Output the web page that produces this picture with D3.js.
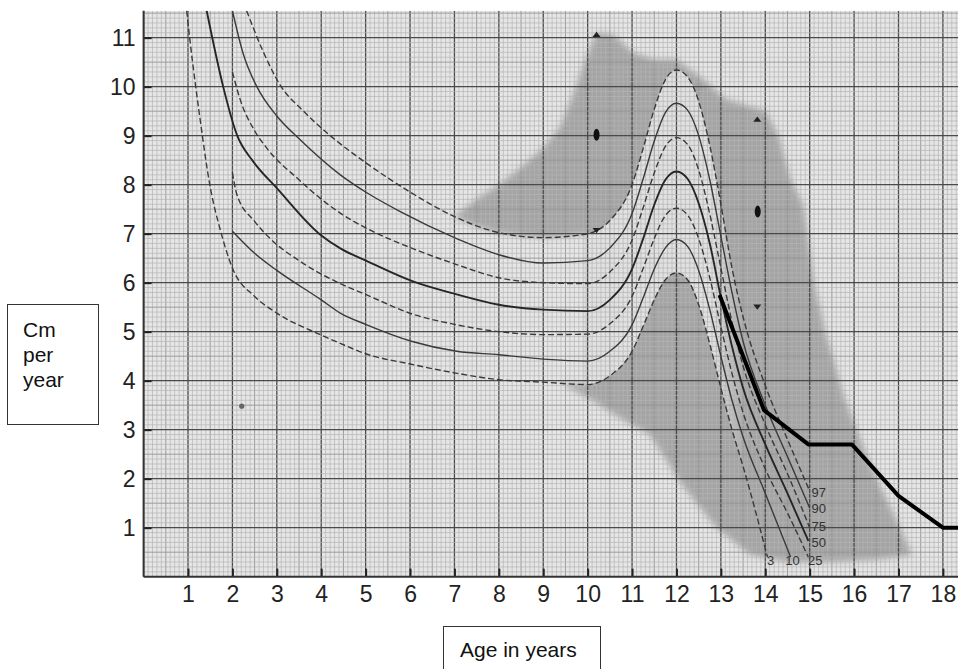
<!DOCTYPE html>
<html><head><meta charset="utf-8">
<script src="https://cdn.jsdelivr.net/npm/d3@7"></script>
<style>body{margin:0;background:#fff}svg{display:block}</style>
</head><body>
<script>
// ---------- data ----------
const xTicks = [1,2,3,4,5,6,7,8,9,10,11,12,13,14,15,16,17,18];
const yTicks = [1,2,3,4,5,6,7,8,9,10,11];

// percentile curves: [age, cm per year]
const p97 = [[2.32,11.55],[2.7,10.7],[3.07,10.04],[3.6,9.5],[4.27,8.95],[5.0,8.45],[6.0,7.85],[7.0,7.35],[8.0,7.02],[9.0,6.92],[10.0,7.0],[10.5,7.27],[11.0,8.0],[11.25,8.74],[11.5,9.54],[11.75,10.14],[12.0,10.34],[12.25,10.2],[12.5,9.7],[12.75,8.8],[13.0,7.6],[13.25,6.3],[13.5,5.3],[14.0,3.9],[14.5,2.8],[15.0,1.75]];
const p90 = [[2.0,11.55],[2.25,10.65],[2.55,10.0],[3.0,9.4],[3.52,8.92],[4.43,8.2],[5.0,7.85],[5.78,7.45],[7.05,6.9],[8.0,6.57],[9.0,6.4],[10.0,6.45],[10.5,6.71],[11.0,7.41],[11.25,8.12],[11.5,8.89],[11.75,9.47],[12.0,9.66],[12.25,9.52],[12.5,9.0],[12.75,8.1],[13.0,6.95],[13.25,5.8],[13.5,4.8],[14.0,3.5],[14.5,2.45],[15.0,1.4]];
const p75 = [[2.0,10.3],[2.17,9.75],[2.5,9.1],[2.77,8.75],[3.5,8.1],[3.98,7.72],[4.43,7.42],[5.0,7.12],[6.05,6.7],[7.05,6.37],[8.0,6.1],[9.0,6.0],[10.0,5.98],[10.5,6.22],[11.0,6.87],[11.25,7.53],[11.5,8.24],[11.75,8.78],[12.0,8.96],[12.25,8.82],[12.5,8.3],[12.75,7.4],[13.0,6.3],[13.25,5.2],[13.5,4.3],[14.0,3.1],[14.5,2.1],[15.0,1.0]];
const p50 = [[1.42,11.55],[1.8,9.97],[2.1,9.02],[2.47,8.47],[3.0,7.93],[3.98,6.98],[4.43,6.7],[5.03,6.44],[6.05,6.03],[7.05,5.76],[8.0,5.55],[9.0,5.45],[10.0,5.42],[10.5,5.65],[11.0,6.28],[11.25,6.9],[11.5,7.59],[11.75,8.1],[12.0,8.27],[12.25,8.12],[12.5,7.62],[12.75,6.8],[13.0,5.7],[13.25,4.7],[13.5,3.85],[14.0,2.7],[14.5,1.7],[14.97,0.73]];
const p25 = [[2.0,8.25],[2.1,7.8],[2.5,7.25],[2.85,6.9],[3.5,6.45],[4.43,5.98],[5.0,5.76],[6.05,5.36],[7.0,5.15],[8.0,5.0],[9.0,4.94],[10.0,4.95],[10.5,5.16],[11.0,5.72],[11.25,6.29],[11.5,6.9],[11.75,7.37],[12.0,7.52],[12.25,7.38],[12.5,6.9],[12.75,6.1],[13.0,5.1],[13.25,4.15],[13.5,3.35],[14.0,2.2],[14.5,1.3],[14.97,0.4]];
const p10 = [[2.0,7.05],[2.5,6.6],[3.0,6.25],[4.0,5.65],[4.43,5.38],[5.0,5.15],[6.05,4.8],[7.05,4.6],[8.0,4.53],[9.0,4.44],[10.0,4.4],[10.5,4.6],[11.0,5.14],[11.25,5.69],[11.5,6.28],[11.75,6.71],[12.0,6.88],[12.25,6.74],[12.5,6.25],[12.75,5.45],[13.0,4.5],[13.25,3.6],[13.5,2.85],[14.0,1.7],[14.57,0.4]];
const p3 = [[0.97,11.55],[1.05,10.9],[1.27,9.35],[1.5,7.95],[1.72,7.1],[2.0,6.3],[2.5,5.72],[3.0,5.38],[4.0,4.93],[4.43,4.76],[5.0,4.55],[6.0,4.34],[7.0,4.16],[8.0,4.02],[9.0,3.97],[10.0,3.92],[10.5,4.1],[11.0,4.6],[11.25,5.11],[11.5,5.65],[11.75,6.06],[12.0,6.2],[12.25,6.06],[12.5,5.55],[12.75,4.75],[13.0,3.85],[13.25,3.0],[13.5,2.25],[14.05,0.4]];

const curveNames = ["97","90","75","50","25","10","3"];
const curveData = [p97,p90,p75,p50,p25,p10,p3];

// the patient's plotted velocity
const patient = [[12.97,5.75],[13.97,3.4],[14.97,2.7],[15.95,2.7],[17.0,1.65],[18.0,1.0],[18.4,1.0]];

// shaded (early / late maturer) envelope
const shade = [[7.0,7.35],[7.5,7.7],[8.0,8.0],[8.5,8.35],[9.0,8.75],[9.4,9.2],[9.7,9.9],[9.95,10.55],[10.2,11.1],[10.6,11.05],[11.0,10.7],[11.5,10.55],[12.0,10.55],[12.6,10.15],[13.1,9.75],[14.0,9.5],[14.3,9.0],[14.55,8.15],[14.85,7.6],[15.1,6.0],[15.35,5.0],[15.8,3.6],[16.4,2.2],[17.1,0.86],[17.3,0.45],[16.5,0.35],[15.5,0.3],[14.5,0.3],[13.66,0.45],[12.9,1.0],[12.15,1.85],[11.4,2.9],[10.8,3.2],[10.2,3.55],[9.6,3.85],[9.4,3.95],[9.7,3.93],[10.0,3.92],[10.0,7.0],[9.0,6.92],[8.0,7.02],[7.5,7.15]];

// markers
const markerAge = [10.2,10.2,10.2,13.82,13.83,13.82];
const markerVel = [11.05,9.02,7.08,9.32,7.45,5.52];
const markerKind = ["up","oval","down","up","oval","down"];
const dotAge = [2.21], dotVel = [3.48];

// percentile labels
const pctLabels = ["97","90","75","50","3","10","25"];
const pctLabelAge = [15.04,15.04,15.04,15.04,14.04,14.45,14.96];
const pctLabelVel = [1.63,1.30,0.93,0.60,0.23,0.23,0.23];

// ---------- drawing ----------
const W = 958, H = 669;
const x = d3.scaleLinear().domain([0, 18.34]).range([143.6, 958]);
const y = d3.scaleLinear().domain([0, 11.55]).range([576.7, 10.7]);
const [x0, x1] = x.range(), [y0, y1] = y.range();

const svg = d3.select("body").append("svg").attr("width", W).attr("height", H);
const defs = svg.append("defs");
defs.append("filter").attr("id","soft").attr("x","-10%").attr("y","-10%").attr("width","120%").attr("height","120%")
  .append("feGaussianBlur").attr("stdDeviation", 3);
const PAPER = "#e6e6e6";
const grad = defs.append("linearGradient").attr("id","bandFade").attr("gradientUnits","userSpaceOnUse")
  .attr("x1", x(12.8)).attr("x2", x(13.6)).attr("y1",0).attr("y2",0);
grad.append("stop").attr("offset",0).attr("stop-color",PAPER).attr("stop-opacity",0.92);
grad.append("stop").attr("offset",1).attr("stop-color",PAPER).attr("stop-opacity",0);
defs.append("clipPath").attr("id","plotClip").append("rect")
  .attr("x",x0).attr("y",y1).attr("width",x1-x0).attr("height",y0-y1);

svg.append("rect").attr("width",W).attr("height",H).attr("fill","#fff");
const plot = svg.append("g").attr("clip-path","url(#plotClip)");
plot.append("rect").attr("x",x0).attr("y",y1).attr("width",x1-x0).attr("height",y0-y1).attr("fill",PAPER);

// shade
const lin = d3.line().x(d=>x(d[0])).y(d=>y(d[1]));
plot.append("path").attr("d", d3.line().x(d=>x(d[0])).y(d=>y(d[1])).curve(d3.curveLinearClosed)(shade))
  .attr("fill","#6e6e6e").attr("fill-opacity",0.55).attr("filter","url(#soft)");

// light band between 97th and 3rd percentile inside the shade
const mono = d3.line().x(d=>x(d[0])).y(d=>y(d[1])).curve(d3.curveMonotoneX);
const bTop = p97.filter(d=>d[0]>=10.0), bBot = p3.filter(d=>d[0]>=10.0).slice().reverse();
const bandD = mono(bTop) + "L" + mono(bBot).slice(1) + "Z";
plot.append("path").attr("d", bandD).attr("fill","url(#bandFade)");

// graph-paper grid
const g = plot.append("g");
const fineX = d3.range(0, 18.4, 0.1), fineY = d3.range(0, 11.6, 0.1);
g.selectAll(".fx").data(fineX).join("line")
  .attr("x1",d=>x(d)).attr("x2",d=>x(d)).attr("y1",y1).attr("y2",y0)
  .attr("stroke", d=>{const r=Math.round(d*10)%10; return r===0?"#4a4a4a":(r===5?"#959595":"#b4b4b4");})
  .attr("stroke-width", d=>{const r=Math.round(d*10)%10; return r===0?1.3:(r===5?0.9:0.7);});
g.selectAll(".fy").data(fineY).join("line")
  .attr("y1",d=>y(d)).attr("y2",d=>y(d)).attr("x1",x0).attr("x2",x1)
  .attr("stroke", d=>{const r=Math.round(d*10)%10; return r===0?"#4a4a4a":(r===5?"#959595":"#b4b4b4");})
  .attr("stroke-width", d=>{const r=Math.round(d*10)%10; return r===0?1.3:(r===5?0.9:0.7);});

// percentile curves
const dashed = {"97":true,"75":true,"25":true,"3":true};
curveNames.forEach((n,i)=>{
  plot.append("path").attr("d", mono(curveData[i])).attr("fill","none")
    .attr("stroke", n==="50" ? "#262626" : "#3a3a3a")
    .attr("stroke-width", n==="50" ? 1.9 : 1.4)
    .attr("stroke-dasharray", dashed[n] ? "6,3" : null);
});

// markers
markerKind.forEach((k,i)=>{
  const cx = x(markerAge[i]), cy = y(markerVel[i]);
  if (k==="oval") {
    plot.append("ellipse").attr("cx",cx).attr("cy",cy).attr("rx",3).attr("ry",6).attr("fill","#111");
  } else {
    plot.append("path").attr("d", d3.symbol(d3.symbolTriangle, 28)())
      .attr("transform", `translate(${cx},${cy}) rotate(${k==="down"?180:0}) scale(1,0.75)`)
      .attr("fill","#222");
  }
});
plot.selectAll(".dot").data(dotAge).join("circle")
  .attr("cx",(d,i)=>x(d)).attr("cy",(d,i)=>y(dotVel[i])).attr("r",2.6).attr("fill","#666");

// patient line
plot.append("path").attr("d", lin(patient)).attr("fill","none")
  .attr("stroke","#000").attr("stroke-width",4).attr("stroke-linejoin","round");

// percentile labels
plot.selectAll(".pl").data(pctLabels).join("text")
  .attr("x",(d,i)=>x(pctLabelAge[i])).attr("y",(d,i)=>y(pctLabelVel[i]))
  .attr("font-family","'Liberation Sans Narrow','Arial Narrow','Liberation Sans',sans-serif")
  .attr("font-size",13).attr("fill","#333").text(d=>d);

// axes
const tickFont = "'Liberation Sans Narrow','Arial Narrow','Liberation Sans',sans-serif";
const ax = svg.append("g").attr("transform",`translate(0,${y0})`)
  .call(d3.axisBottom(x).tickValues(xTicks).tickSize(-8).tickPadding(9).tickFormat(d3.format("d")));
const ay = svg.append("g").attr("transform",`translate(${x0},0)`)
  .call(d3.axisLeft(y).tickValues(yTicks).tickSize(-8).tickPadding(8).tickFormat(d3.format("d")));
[ax, ay].forEach(a=>{
  a.select(".domain").remove();
  a.selectAll(".tick line").attr("stroke","#222").attr("stroke-width",2);
  a.selectAll("text").attr("font-family",tickFont).attr("font-size",23).attr("fill","#222");
});
svg.append("line").attr("x1",x0).attr("x2",x1).attr("y1",y0).attr("y2",y0).attr("stroke","#333").attr("stroke-width",2);
svg.append("line").attr("x1",x0).attr("x2",x0).attr("y1",y1).attr("y2",y0).attr("stroke","#333").attr("stroke-width",2);

// axis title boxes
const titleFont = "'Liberation Sans',Arial,sans-serif";
svg.append("rect").attr("x",7.5).attr("y",304.5).attr("width",91).attr("height",120)
  .attr("fill","#fff").attr("stroke","#333").attr("stroke-width",1);
["Cm","per","year"].forEach((t,i)=>{
  svg.append("text").attr("x",23).attr("y",337+i*25).attr("font-family",titleFont)
    .attr("font-size",21).attr("fill","#111").text(t);
});
svg.append("rect").attr("x",443.5).attr("y",626.5).attr("width",157).attr("height",60)
  .attr("fill","#fff").attr("stroke","#333").attr("stroke-width",1);
svg.append("text").attr("x",460).attr("y",657).attr("font-family",titleFont)
  .attr("font-size",21).attr("fill","#111").text("Age in years");
</script>
</body></html>
